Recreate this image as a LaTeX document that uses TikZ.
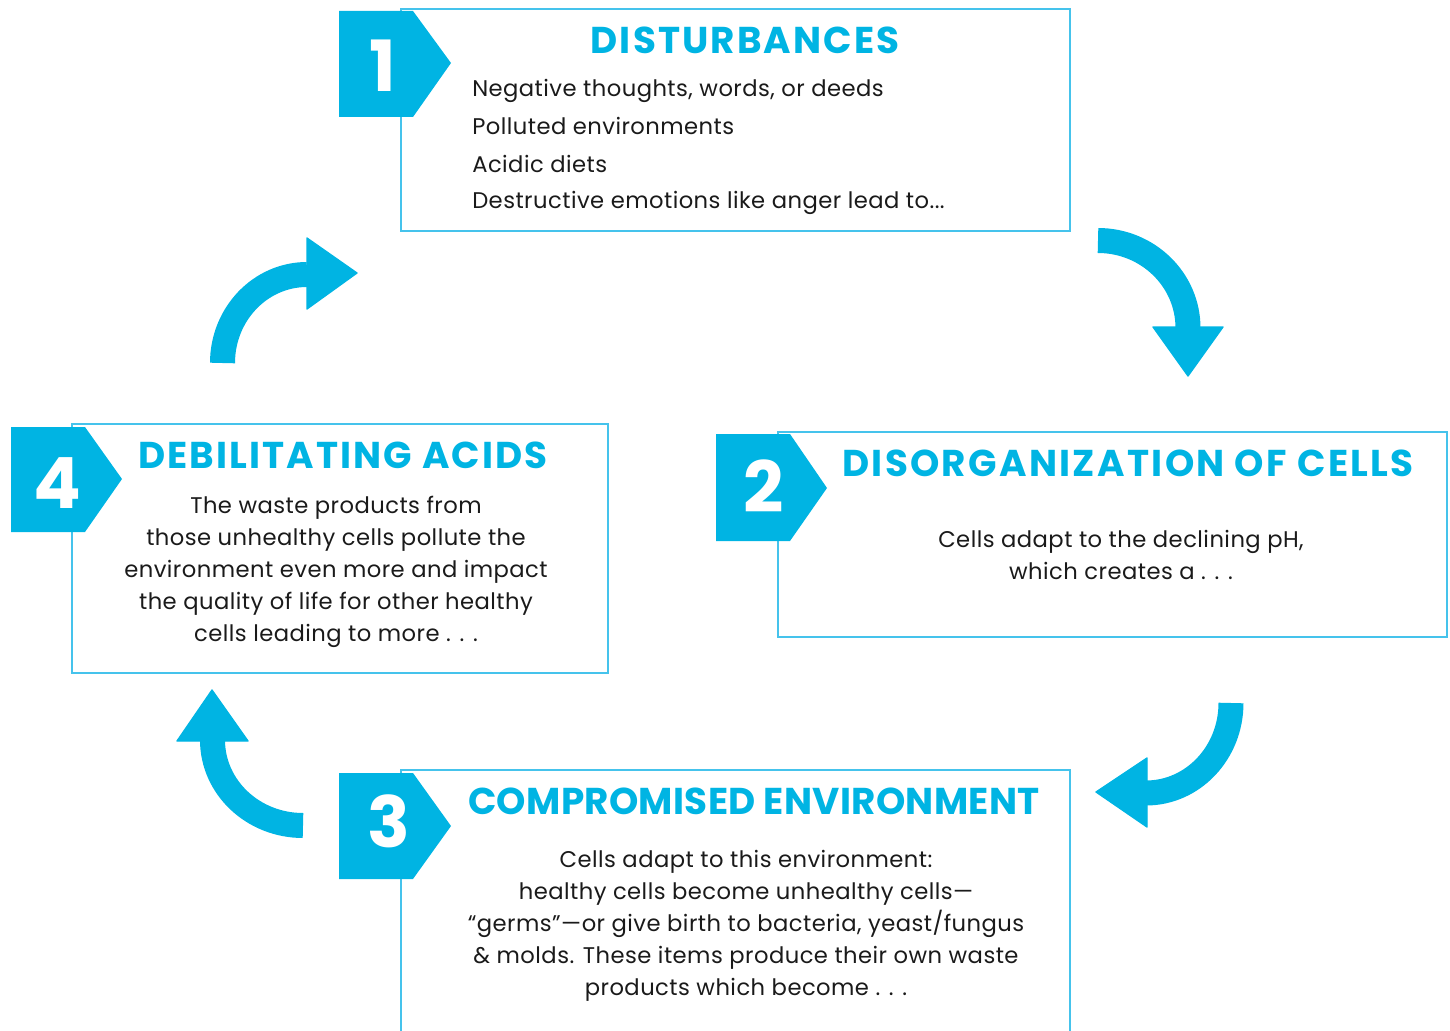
\documentclass[tikz,border=0pt]{standalone}
\usepackage{fontspec}
\setmainfont{Poppins}
\usetikzlibrary{fit}
\definecolor{cy}{HTML}{00B4E3}
\definecolor{cyl}{HTML}{45C3EC}
\definecolor{txt}{HTML}{1A1A1A}
\tikzset{
  boxstyle/.style={draw=cyl, line width=1.1pt, inner sep=0pt},
  badge/.style={fill=cy, draw=none},
  titletext/.style={font=\fontsize{28pt}{30pt}\selectfont\bfseries\addfontfeatures{LetterSpace=#1}, text=cy, anchor=base, inner sep=0pt},
  bodytext/.style={font=\fontsize{17pt}{20pt}\selectfont\addfontfeatures{LetterSpace=2}, text=txt, anchor=base, inner sep=0pt},
  bodyleft/.style={bodytext, anchor=base west},
  numtext/.style={font=\fontsize{53pt}{55pt}\selectfont\bfseries, text=white, anchor=base, inner sep=0pt},
  band/.style={draw=cy, line width=18.75pt, line cap=butt},
  head/.style={fill=cy, draw=cy, line width=1pt, line join=round},
}
\begin{document}
\begin{tikzpicture}[x=0.75pt, y=-0.75pt]
\useasboundingbox (0,0) rectangle (1450,1031);

% boxes
\node[boxstyle, fit={(401,9) (1070,231)}] (box1) {};
\node[boxstyle, fit={(778,432) (1447,637)}] (box2) {};
\node[boxstyle, fit={(72,424) (608,673)}] (box4) {};
\coordinate (b3bl) at (401,1033);
\coordinate (b3tl) at (401,770);
\coordinate (b3tr) at (1070,770);
\coordinate (b3br) at (1070,1033);
\draw[draw=cyl, line width=1.1pt] (b3bl) -- (b3tl) -- (b3tr) -- (b3br);

% badges
\fill[badge] (339,11) -- (413,11) -- (451,63) -- (413,117) -- (339,117) -- cycle;
\fill[badge] (716,434) -- (790,434) -- (827,488) -- (790,541) -- (716,541) -- cycle;
\fill[badge] (339,773) -- (413,773) -- (451,826) -- (413,879) -- (339,879) -- cycle;
\fill[badge] (11,427) -- (85,427) -- (122,479) -- (85,532) -- (11,532) -- cycle;
\node[numtext] (n1) at (383,92) {1};
\node[numtext] (n2) at (764,512) {2};
\node[numtext] (n3) at (389,847) {3};
\node[numtext] (n4) at (57,508) {4};

% titles
\node[titletext=5.6] (t1) at (745,54) {DISTURBANCES};
\node[titletext=6.2] (t2) at (1128,476) {DISORGANIZATION OF CELLS};
\node[titletext=5.6] (t4) at (343,468) {DEBILITATING ACIDS};
\node[titletext=0.8] (t3) at (754,814) {COMPROMISED ENVIRONMENT};

% box 1 body
\node[bodyleft] (l11) at (472,97) {Negative thoughts, words, or deeds};
\node[bodyleft] (l12) at (472,134) {Polluted environments};
\node[bodyleft] (l13) at (472,172) {Acidic diets};
\node[bodyleft] (l14) at (472,208) {Destructive emotions like anger lead to...};

% box 2 body
\node[bodytext] (l21) at (1121,547) {Cells adapt to the declining pH,};
\node[bodytext] (l22) at (1121,579) {which creates a . . .};

% box 4 body
\node[bodytext] (l41) at (336,513) {The waste products from};
\node[bodytext] (l42) at (336,545) {those unhealthy cells pollute the};
\node[bodytext] (l43) at (336,577) {environment even more and impact};
\node[bodytext] (l44) at (336,609) {the quality of life for other healthy};
\node[bodytext] (l45) at (336,641) {cells leading to more . . .};

% box 3 body
\node[bodytext] (l31) at (746,867) {Cells adapt to this environment:};
\node[bodytext] (l32) at (746,899) {healthy cells become unhealthy cells—};
\node[bodytext] (l33) at (746,931) {“germs”—or give birth to bacteria, yeast/fungus};
\node[bodytext] (l34) at (746,963) {\& molds. These items produce their own waste};
\node[bodytext] (l35) at (746,995) {products which become . . .};

% arrows
% 1 -> 2
\draw[band] (1098,240.5) arc[start angle=-90, end angle=0, x radius=90, y radius=87.5];
\filldraw[head] (1153,327) -- (1223,327) -- (1188,376) -- cycle;
% 2 -> 3
\draw[band] (1231,703) arc[start angle=0, end angle=90, x radius=85, y radius=90];
\filldraw[head] (1147,758) -- (1147,827) -- (1096,792) -- cycle;
% 3 -> 4
\draw[band] (303,825.5) arc[start angle=90, end angle=180, x radius=90.5, y radius=85.5];
\filldraw[head] (177,741) -- (248,741) -- (212,690) -- cycle;
% 4 -> 1
\draw[band] (222.5,363) arc[start angle=180, end angle=270, x radius=84.5, y radius=88.5];
\filldraw[head] (307,238) -- (307,309) -- (357,273) -- cycle;
\end{tikzpicture}
\end{document}
